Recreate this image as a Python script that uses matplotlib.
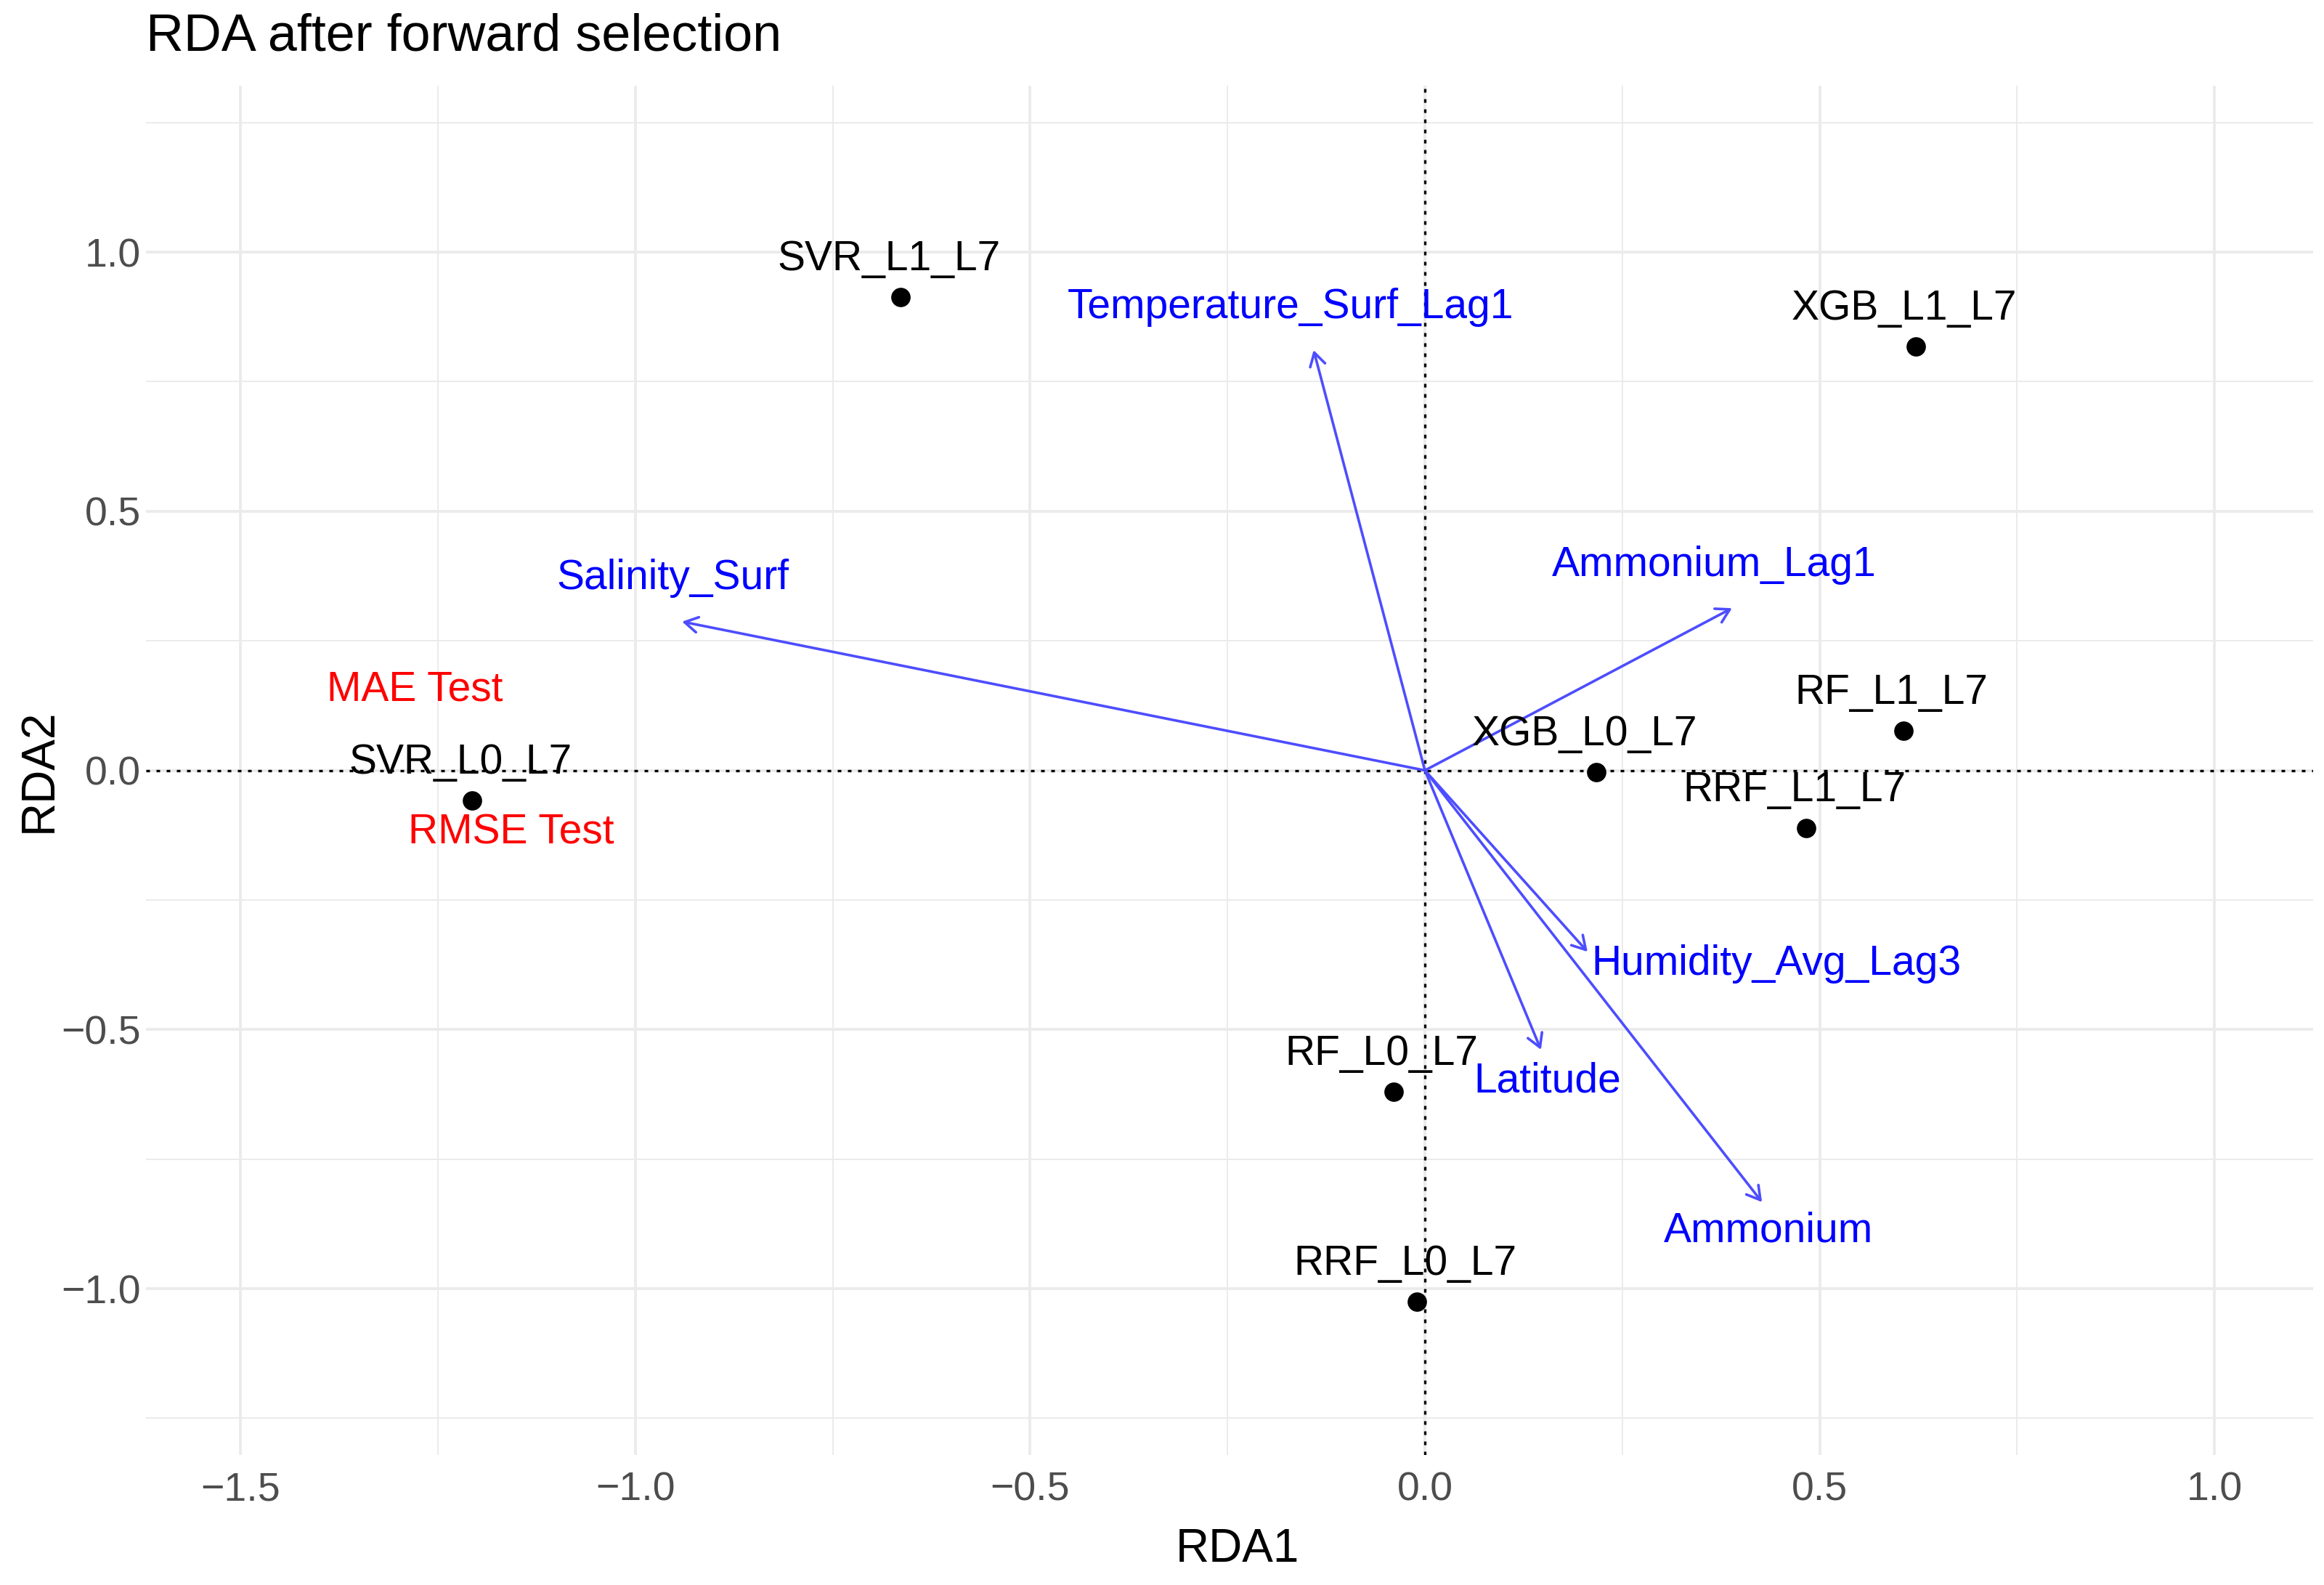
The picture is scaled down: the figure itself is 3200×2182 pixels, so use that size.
#!/usr/bin/env python3
# RDA biplot after forward selection: model scores, explanatory arrows, response labels
import matplotlib
matplotlib.use("Agg")
import matplotlib.pyplot as plt
from matplotlib.ticker import MultipleLocator, FuncFormatter

# model (site) scores
site_names = ["SVR_L1_L7", "XGB_L1_L7", "RF_L1_L7", "XGB_L0_L7",
              "RRF_L1_L7", "SVR_L0_L7", "RF_L0_L7", "RRF_L0_L7"]
site_rda1 = [-0.664, 0.622, 0.606, 0.217, 0.483, -1.207, -0.040, -0.010]
site_rda2 = [0.913, 0.818, 0.077, -0.003, -0.111, -0.058, -0.620, -1.025]

# explanatory variables (arrow tips) and where their labels sit
var_names = ["Temperature_Surf_Lag1", "Salinity_Surf", "Ammonium_Lag1",
             "Humidity_Avg_Lag3", "Latitude", "Ammonium"]
var_rda1 = [-0.141, -0.941, 0.389, 0.206, 0.147, 0.427]
var_rda2 = [0.811, 0.287, 0.313, -0.350, -0.539, -0.833]
var_lab_rda1 = [-0.170, -0.953, 0.366, 0.445, 0.155, 0.435]
var_lab_rda2 = [0.873, 0.350, 0.375, -0.394, -0.621, -0.910]

# response variables
resp_names = ["MAE Test", "RMSE Test"]
resp_rda1 = [-1.279, -1.157]
resp_rda2 = [0.134, -0.142]

plt.rcParams['font.family'] = ['Liberation Sans', 'DejaVu Sans']


def minus_fmt(v, pos):
    # R style labels with a real minus sign
    return ("%.1f" % v).replace("-", "\u2212")


fig = plt.figure(figsize=(16, 10.91), dpi=200)
ax = fig.add_axes([0.0628, 0.082, 0.9325, 0.8639])
ax.set_xlim(-1.620, 1.125)
ax.set_ylim(-1.321, 1.321)

# theme_minimal look
for s in ax.spines.values():
    s.set_visible(False)
ax.xaxis.set_major_locator(MultipleLocator(0.5))
ax.yaxis.set_major_locator(MultipleLocator(0.5))
ax.xaxis.set_minor_locator(MultipleLocator(0.25))
ax.yaxis.set_minor_locator(MultipleLocator(0.25))
ax.xaxis.set_major_formatter(FuncFormatter(minus_fmt))
ax.yaxis.set_major_formatter(FuncFormatter(minus_fmt))
ax.grid(which='major', color='#EBEBEB', lw=1.4)
ax.grid(which='minor', color='#EBEBEB', lw=0.7)
ax.set_axisbelow(True)
ax.tick_params(which='both', length=0)
ax.tick_params(axis='x', pad=8, labelsize=20, labelcolor='#4D4D4D')
ax.tick_params(axis='y', pad=2.5, labelsize=20, labelcolor='#4D4D4D')

# dotted reference lines through the origin
ax.axhline(0, color='black', lw=1.2, ls=(0, (1.5, 2.7)), zorder=1)
ax.axvline(0, color='black', lw=1.2, ls=(0, (1.5, 2.7)), zorder=1)

# arrows for explanatory variables
for i in range(len(var_names)):
    ax.annotate("", xy=(var_rda1[i], var_rda2[i]), xytext=(0, 0),
                arrowprops=dict(arrowstyle="->,head_length=0.65,head_width=0.38",
                                color='#4D4DFF', lw=1.3, shrinkA=0, shrinkB=0,
                                mutation_scale=10),
                zorder=2)
    ax.text(var_lab_rda1[i], var_lab_rda2[i], var_names[i], color='#0000FF',
            fontsize=20.5, ha='center', va='baseline', zorder=3)

# model points and their labels
ax.plot(site_rda1, site_rda2, 'o', color='black', ms=8.6, zorder=4)
for i in range(len(site_names)):
    ax.annotate(site_names[i], xy=(site_rda1[i], site_rda2[i]),
                xytext=(-5.8, 13.3), textcoords='offset points',
                ha='center', va='baseline', fontsize=20.5, color='black', zorder=5)

# response labels
for i in range(len(resp_names)):
    ax.text(resp_rda1[i], resp_rda2[i], resp_names[i], color='#FF0000',
            fontsize=20.5, ha='center', va='baseline', zorder=5)

ax.set_xlabel("RDA1", fontsize=23, color='black')
ax.set_ylabel("RDA2", fontsize=23, color='black')
ax.xaxis.set_label_coords(0.5037, -0.0529)
ax.yaxis.set_label_coords(-0.0392, 0.5)

fig.text(0.0628, 1 - 70 / 2182, "RDA after forward selection", fontsize=25.9,
         ha='left', va='baseline', color='black')

fig.savefig("out.png", dpi=200)
